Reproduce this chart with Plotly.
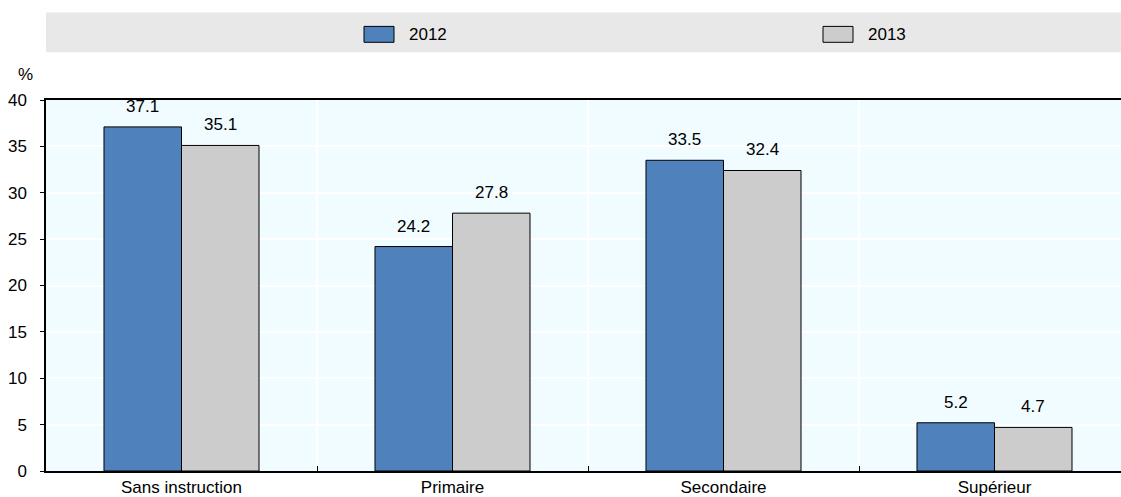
import plotly.graph_objects as go

# Share by education level, two survey years
categories = ["Sans instruction", "Primaire", "Secondaire", "Supérieur"]
years = ["2012", "2013"]
values_2012 = [37.1, 24.2, 33.5, 5.2]
values_2013 = [35.1, 27.8, 32.4, 4.7]
y_ticks = [0, 5, 10, 15, 20, 25, 30, 35, 40]

FONT = "Liberation Sans Narrow, Arial Narrow, Liberation Sans, Arial, sans-serif"
BLUE = "#4F81BD"
GREY = "#CCCCCC"
W, H = 1121, 497
L, R, T, B = 46, 0, 100, 24
CAT_PX = 271  # pixel width of one category slot

fig = go.Figure()
for name, vals, col in [(years[0], values_2012, BLUE), (years[1], values_2013, GREY)]:
    fig.add_trace(go.Bar(
        x=categories, y=vals, name=name,
        marker=dict(color=col, line=dict(color="#000000", width=1)),
        showlegend=False,
        offsetgroup=name,
    ))

# value labels above each bar
bar_w = 0.286
for vals, off in [(values_2012, -bar_w / 2), (values_2013, bar_w / 2)]:
    for i, v in enumerate(vals):
        fig.add_annotation(
            x=i + off, y=v, xref="x", yref="y", text=f"{v:.1f}",
            showarrow=False, yanchor="bottom", yshift=9,
            font=dict(family=FONT, size=17, color="#000000"),
        )

x_right = -0.5 + (W - L - R) / CAT_PX

# legend band
fig.add_shape(type="rect", xref="paper", yref="paper",
              x0=0, x1=1, y0=1 + (T - 52) / (H - T - B), y1=1 + (T - 12) / (H - T - B),
              fillcolor="#E8E8E8", line=dict(width=0), layer="below")


def px_x(px):
    return (px - L) / (W - L - R)


def px_y(py):
    return 1 + (T - py) / (H - T - B)


for name, col, sx in [(years[0], BLUE, 364), (years[1], GREY, 823)]:
    fig.add_shape(type="rect", xref="paper", yref="paper",
                  x0=px_x(sx), x1=px_x(sx + 30), y0=px_y(42), y1=px_y(26),
                  fillcolor=col, line=dict(color="#000000", width=1))
    fig.add_annotation(xref="paper", yref="paper", x=px_x(sx + 43), y=px_y(34),
                       text=name, showarrow=False, xanchor="left", yanchor="middle",
                       font=dict(family=FONT, size=17, color="#000000"))

# unit label
fig.add_annotation(xref="paper", yref="paper", x=px_x(25), y=px_y(74),
                   text="%", showarrow=False, xanchor="center", yanchor="middle",
                   font=dict(family=FONT, size=17, color="#000000"))

fig.update_layout(
    width=W, height=H,
    margin=dict(l=L, r=R, t=T, b=B),
    paper_bgcolor="#FFFFFF",
    plot_bgcolor="#F0FCFF",
    barmode="group",
    bargap=0.428,
    bargroupgap=0,
    font=dict(family=FONT, size=17, color="#000000"),
)
fig.update_xaxes(
    type="category", range=[-0.5, x_right],
    tickson="boundaries", ticks="inside", ticklen=5, tickcolor="#000000",
    showgrid=True, gridcolor="#FFFFFF", gridwidth=1.5,
    showline=True, linecolor="#000000", linewidth=2, mirror=True,
    tickfont=dict(family=FONT, size=17, color="#000000"),
    fixedrange=True,
)
fig.update_yaxes(
    range=[0, 40], tickvals=y_ticks,
    ticks="outside", ticklen=4, tickcolor="#000000",
    showgrid=True, gridcolor="#FFFFFF", gridwidth=1.5,
    showline=True, linecolor="#000000", linewidth=1.5,
    zeroline=False, ticklabelstandoff=10,
    tickfont=dict(family=FONT, size=17, color="#000000"),
    fixedrange=True,
)

fig.write_html("out.html")
